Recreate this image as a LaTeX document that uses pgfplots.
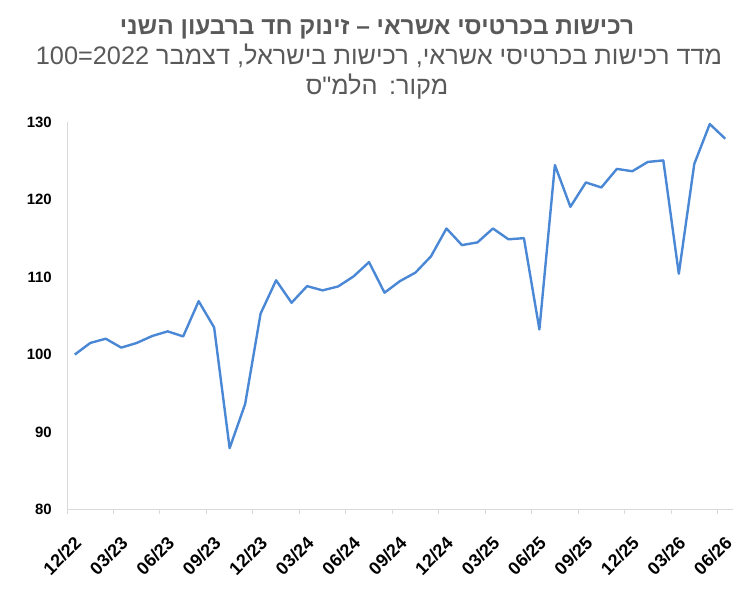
\documentclass[border=0pt]{standalone}
\usepackage{pgfplots}
\pgfplotsset{compat=1.18}
\usepackage{fontspec}
\setmainfont{Liberation Sans}
\newfontfamily\hebfont[Script=Hebrew]{Liberation Sans}
\TeXXeTstate=1
\definecolor{lineblue}{RGB}{74,136,214}
\definecolor{axgray}{RGB}{217,217,217}
\definecolor{titlegray}{RGB}{89,89,89}

\pgfplotstableread{
idx val
0 100.0
1 101.5
2 102.05
3 100.9
4 101.5
5 102.4
6 103.0
7 102.35
8 106.9
9 103.5
10 87.9
11 93.6
12 105.3
13 109.6
14 106.7
15 108.85
16 108.3
17 108.8
18 110.1
19 111.95
20 108.0
21 109.5
22 110.6
23 112.7
24 116.3
25 114.15
26 114.5
27 116.3
28 114.9
29 115.05
30 103.25
31 124.5
32 119.1
33 122.25
34 121.6
35 124.0
36 123.7
37 124.9
38 125.1
39 110.45
40 124.65
41 129.8
42 127.9
}\datatable

\begin{document}
\begin{tikzpicture}[x=1bp,y=1bp]
\path[use as bounding box] (0,0) rectangle (756,596);
\node[anchor=base, inner sep=0pt, text=titlegray, font=\hebfont\bfseries\fontsize{24.5}{29}\selectfont] at (377,561)
  {\beginR רכישות בכרטיסי אשראי – זינוק חד ברבעון השני\endR};
\node[anchor=base, inner sep=0pt, text=titlegray, font=\hebfont\fontsize{25.4}{30}\selectfont] at (379,531)
  {\beginR מדד רכישות בכרטיסי אשראי, רכישות בישראל, דצמבר \beginL2022\endL=\beginL100\endL\endR};
\node[anchor=base, inner sep=0pt, text=titlegray, font=\hebfont\fontsize{25.4}{30}\selectfont] at (377,501)
  {\beginR מקור:\kern2bp{} הלמ"ס\endR};
\begin{axis}[
  scale only axis, width=666bp, height=386.8bp,
  at={(67bp,86.7bp)}, anchor=south west,
  xmin=-0.5, xmax=42.5, ymin=80, ymax=130,
  axis x line*=bottom, axis y line*=left,
  axis line style={draw=axgray, line width=1bp},
  xtick={-0.5,2.5,...,41.5},
  xticklabels={12/22,03/23,06/23,09/23,12/23,03/24,06/24,09/24,12/24,03/25,06/25,09/25,12/25,03/26,06/26},
  xtick align=outside,
  xtick style={draw=axgray, line width=1bp},
  major tick length=5bp,
  ytick={80,90,...,130},
  ytick style={draw=none},
  /pgf/number format/assume math mode=true,
  tick label style={text=black},
  yticklabel style={font=\bfseries\fontsize{15}{18}\selectfont, anchor=east, inner sep=0pt, xshift=-15bp},
  xticklabel style={font=\bfseries\fontsize{18}{21}\selectfont, rotate=45, anchor=north east, inner sep=0pt, xshift=-10bp, yshift=-19bp},
  clip=false,
]
\addplot[lineblue, line width=2.4bp, line join=round] table[x=idx, y=val] {\datatable};
\end{axis}
\end{tikzpicture}
\end{document}
